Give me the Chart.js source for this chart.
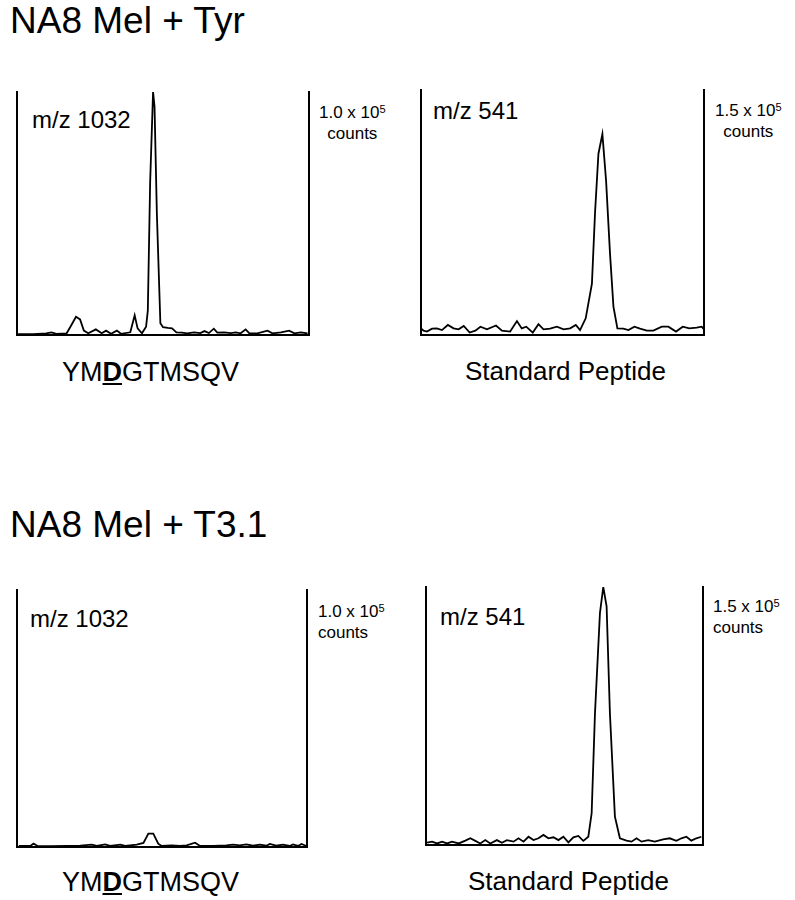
<!DOCTYPE html>
<html>
<head>
<meta charset="utf-8">
<script src="https://cdn.jsdelivr.net/npm/chart.js@4.4.1/dist/chart.umd.min.js"></script>
<style>
  body { margin: 0; background: #fff; width: 795px; height: 900px; position: relative; overflow: hidden;
         font-family: "Liberation Sans", Arial, Helvetica, sans-serif; color: #000; }
  .txt { position: absolute; white-space: nowrap; line-height: 1; }
  .panel { position: absolute; }
  sup { font-size: 0.65em; vertical-align: 0.45em; line-height: 0; }
</style>
</head>
<body>

<div class="txt" style="left:10px; top:2px; font-size:37px;">NA8 Mel + Tyr</div>
<div class="txt" style="left:10px; top:506px; font-size:37px;">NA8 Mel + T3.1</div>

<div class="txt" style="left:32px; top:108px; font-size:24px;">m/z 1032</div>
<div class="txt" style="left:433px; top:99px; font-size:24px;">m/z 541</div>
<div class="txt" style="left:30px; top:607px; font-size:24px;">m/z 1032</div>
<div class="txt" style="left:440px; top:605px; font-size:24px;">m/z 541</div>

<div class="txt" style="left:319px; top:102px; font-size:17px; text-align:center; line-height:1.25;">1.0 x 10<sup>5</sup><br>counts</div>
<div class="txt" style="left:715px; top:100px; font-size:17px; text-align:center; line-height:1.25;">1.5 x 10<sup>5</sup><br>counts</div>
<div class="txt" style="left:318px; top:601px; font-size:17px; line-height:1.25;">1.0 x 10<sup>5</sup><br>counts</div>
<div class="txt" style="left:713px; top:596px; font-size:17px; line-height:1.25;">1.5 x 10<sup>5</sup><br>counts</div>

<div class="txt" style="left:62px; top:359px; font-size:27px;">YM<b><u>D</u></b>GTMSQV</div>
<div class="txt" style="left:465px; top:358px; font-size:26px;">Standard Peptide</div>
<div class="txt" style="left:62px; top:869px; font-size:27px;">YM<b><u>D</u></b>GTMSQV</div>
<div class="txt" style="left:468px; top:868px; font-size:26px;">Standard Peptide</div>

<div class="panel" id="p1"><canvas id="c1"></canvas></div>
<div class="panel" id="p2"><canvas id="c2"></canvas></div>
<div class="panel" id="p3"><canvas id="c3"></canvas></div>
<div class="panel" id="p4"><canvas id="c4"></canvas></div>

<script>
// ion traces, time in % of run window, counts in % of full scale
const tyr1032Time = [0.3, 5.5, 10, 11.8, 13.5, 17, 18.3, 20.2, 21.6, 22.9, 24.4, 27, 29, 30.5, 32.2, 34.2, 35.6, 38.8, 40.3, 41.3, 42.8, 44.2, 44.8, 45.6, 46.6, 47.1, 47.9, 49.1, 50, 51.7, 53.1, 54.6, 56.5, 58.3, 60.6, 62.8, 64.2, 65.7, 67.4, 68.6, 70.9, 73.2, 74.9, 76.6, 78.3, 79.5, 82.3, 85.8, 87.5, 90.4, 93.2, 95, 97.2, 99.5];
const tyr1032Counts = [0.4, 0.4, 0.7, 1.1, 0.5, 0.7, 3.4, 7.5, 6.4, 1.8, 0.7, 2.3, 0.7, 1.8, 0.5, 1.8, 0.5, 1.1, 8.1, 2.7, 0.7, 3.4, 10, 63, 100, 94, 50, 4.8, 3.2, 2.9, 2.7, 1.1, 1, 0.7, 1.1, 0.8, 1.6, 0.8, 2.6, 1, 1.1, 0.8, 1.1, 0.7, 2.3, 0.8, 0.7, 1.8, 0.7, 1.1, 1.8, 0.7, 1.1, 0.7];

const tyr541Time = [0, 0.9, 2.1, 3.9, 5.6, 7.4, 9.5, 11.5, 13.3, 15.1, 17.2, 19.2, 21, 23.3, 26.5, 28.6, 31.5, 33.9, 35.6, 37.2, 39.5, 41.5, 43.3, 45.6, 48, 50.4, 52.7, 54.7, 56.2, 58.2, 60.4, 61.5, 62.7, 64.1, 65.4, 66.8, 68, 69.4, 71.5, 73.3, 75.4, 77.4, 79.8, 82.1, 85.1, 87.4, 90.1, 92.5, 94.8, 97.4, 99.2, 100];
const tyr541Counts = [2.7, 1.8, 1.4, 2.6, 2.7, 2, 4.1, 2.7, 2.3, 3.7, 1, 1.8, 3.4, 2.3, 3.9, 1.8, 1.4, 5.7, 2.7, 3.4, 1, 4.4, 2.3, 2.6, 3.4, 2.3, 2.7, 4.1, 2, 6.8, 21, 50, 74, 82, 63, 33, 11.6, 2.7, 2.6, 2, 3.4, 2.6, 1.8, 1.8, 3.4, 3.4, 1.4, 3.4, 2.7, 3, 3.4, 2.3];

const t31_1032Time = [0.6, 4.6, 5.7, 7.1, 11.5, 17.2, 21.8, 25.8, 27.5, 30.4, 32.1, 35.6, 37.3, 41.3, 43.6, 45.3, 47, 48.7, 49.9, 53.3, 56.2, 58.5, 61.4, 63.1, 67.7, 72.2, 74.5, 76.8, 79.1, 81.4, 83.7, 86, 87.2, 89.4, 91.7, 94, 95.2, 96.9, 98.1, 99.8];
const t31_1032Counts = [0.4, 0.4, 1.3, 0.4, 0.3, 0.4, 0.5, 0.9, 0.4, 1, 0.4, 0.9, 0.4, 0.9, 1.6, 5.2, 5.2, 1.3, 0.4, 0.6, 0.4, 0.6, 1.7, 0.4, 0.4, 0.6, 0.9, 0.6, 1, 0.5, 0.9, 0.5, 1.2, 0.5, 0.9, 0.4, 1, 0.4, 1.2, 0.4];

const t31_541Time = [0.4, 2.2, 4, 5.8, 7.6, 9.4, 11.8, 14.2, 16, 17.8, 19.6, 21.4, 23.2, 25.6, 27.4, 29.2, 31.6, 33.4, 35.2, 37, 38.8, 40.6, 42.4, 44.2, 46, 47.8, 49.6, 51.4, 53.2, 55, 56.8, 58.6, 59.8, 61, 62.8, 64, 65.2, 66.4, 68.2, 70, 72.4, 74.2, 76, 77.8, 80.2, 82.6, 85.6, 88, 90.4, 92.2, 94, 95.8, 97.6, 99.4];
const t31_541Counts = [0.9, 1.3, 0.6, 1.3, 0.6, 1.3, 0.6, 1.7, 2.6, 1.6, 0.6, 1.9, 0.6, 1.9, 0.9, 1.9, 1.3, 2.6, 1.3, 3.2, 1.9, 2.6, 3.9, 2.6, 3, 1.9, 3.2, 1, 3, 3.5, 1.6, 3.2, 12.3, 51, 90, 100, 92.5, 51, 11, 2.6, 1.7, 1.3, 2.6, 1.3, 1.9, 1.3, 2.2, 2.6, 1.6, 2.6, 3.2, 1.7, 2.6, 3.2];

const pad = 4;

// axis frame: left, right and bottom lines only
function frameAxis(position) {
  return {
    type: 'linear', position: position, min: 0, max: 100,
    grid: { display: false, drawTicks: false },
    ticks: { display: false },
    border: { display: true, color: '#000', width: 2 }
  };
}

function makePanel(boxId, canvasId, area, time, counts) {
  const box = document.getElementById(boxId);
  box.style.left = (area.left - pad) + 'px';
  box.style.top = (area.top - pad) + 'px';
  const canvas = document.getElementById(canvasId);
  canvas.width = area.right - area.left + 2 * pad;
  canvas.height = area.bottom - area.top + 2 * pad;

  const points = time.map((t, i) => ({ x: t, y: counts[i] }));

  return new Chart(canvas.getContext('2d'), {
    type: 'line',
    data: {
      datasets: [{
        data: points,
        borderColor: '#000',
        borderWidth: 1.8,
        pointRadius: 0,
        tension: 0,
        fill: false
      }]
    },
    options: {
      responsive: false,
      animation: false,
      events: [],
      layout: { padding: pad },
      plugins: { legend: { display: false }, tooltip: { enabled: false } },
      scales: {
        x: frameAxis('bottom'),
        y: frameAxis('left'),
        y2: frameAxis('right')
      }
    }
  });
}

makePanel('p1', 'c1', { left: 17, right: 309, top: 92, bottom: 335 }, tyr1032Time, tyr1032Counts);
makePanel('p2', 'c2', { left: 421, right: 704, top: 90, bottom: 335 }, tyr541Time, tyr541Counts);
makePanel('p3', 'c3', { left: 17, right: 307, top: 590, bottom: 847 }, t31_1032Time, t31_1032Counts);
makePanel('p4', 'c4', { left: 426, right: 703, top: 587, bottom: 845 }, t31_541Time, t31_541Counts);
</script>
</body>
</html>
